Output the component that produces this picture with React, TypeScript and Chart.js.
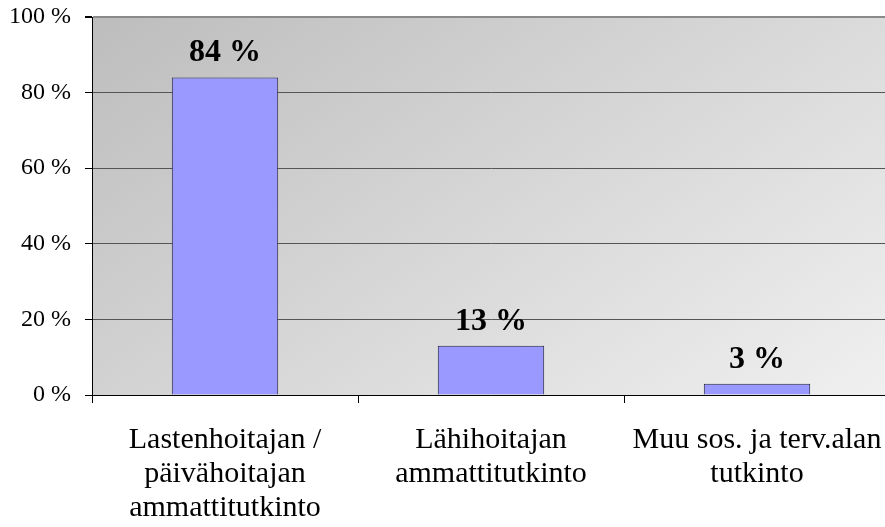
import React, { useEffect, useRef } from 'react';
import { Chart, registerables } from 'chart.js';
Chart.register(...registerables);

const categories: string[][] = [
  ['Lastenhoitajan /', 'päivähoitajan', 'ammattitutkinto'],
  ['Lähihoitajan', 'ammattitutkinto'],
  ['Muu sos. ja terv.alan', 'tutkinto'],
];
const values: number[] = [84, 13, 3];
const valueLabels: string[] = ['84 %', '13 %', '3 %'];
const yTicks: number[] = [0, 20, 40, 60, 80, 100];

const FONT = "'Liberation Serif', 'Times New Roman', serif";

const bgPlugin = {
  id: 'bgGradient',
  beforeDraw(chart: any) {
    const { ctx, chartArea: a } = chart;
    const w = a.right - a.left;
    const h = a.bottom - a.top;
    const g = ctx.createLinearGradient(a.left, a.top, a.left + 0.541 * w, a.top + 1.664 * h);
    g.addColorStop(0, '#bdbdbd');
    g.addColorStop(1, '#f0f0f0');
    ctx.save();
    ctx.fillStyle = g;
    ctx.fillRect(a.left, a.top, w, h);
    ctx.restore();
  },
};

const valueLabelPlugin = {
  id: 'valueLabels',
  afterDatasetsDraw(chart: any) {
    const { ctx } = chart;
    const meta = chart.getDatasetMeta(0);
    ctx.save();
    ctx.font = `bold 32px ${FONT}`;
    ctx.fillStyle = '#000';
    ctx.textAlign = 'center';
    ctx.textBaseline = 'alphabetic';
    meta.data.forEach((el: any, i: number) => {
      ctx.fillText(valueLabels[i], el.x, el.y - 16);
    });
    ctx.restore();
  },
};

export default function App() {
  const ref = useRef<HTMLCanvasElement>(null);
  useEffect(() => {
    if (!ref.current) return;
    const chart = new Chart(ref.current, {
      type: 'bar',
      data: {
        labels: categories,
        datasets: [
          {
            data: values,
            backgroundColor: '#9999ff',
            borderColor: '#222244',
            borderWidth: 1,
            categoryPercentage: 1,
            barPercentage: 0.4,
          },
        ],
      },
      options: {
        animation: false,
        responsive: false,
        devicePixelRatio: 1,
        layout: { padding: { top: 17, left: 0, right: 2, bottom: 0 } },
        plugins: { legend: { display: false }, tooltip: { enabled: false } },
        scales: {
          x: {
            grid: {
              offset: true,
              drawOnChartArea: false,
              drawTicks: true,
              tickLength: 8,
              color: '#000',
            },
            border: { color: '#000', width: 1 },
            ticks: {
              font: { family: FONT, size: 30, lineHeight: 1.14 },
              color: '#000',
              padding: 20,
              maxRotation: 0,
              autoSkip: false,
            },
            afterFit(s: any) {
              s.height = 132;
              s.paddingLeft = 0;
              s.paddingRight = 0;
            },
          },
          y: {
            min: 0,
            max: 100,
            afterBuildTicks(s: any) {
              s.ticks = yTicks.map((v) => ({ value: v }));
            },
            ticks: {
              callback: (v: any) => `${v} %`,
              font: { family: FONT, size: 24 },
              color: '#000',
              padding: 14,
            },
            grid: {
              color: (c: any) => (c.tick && c.tick.value === 100 ? '#8a8a8a' : '#555'),
              lineWidth: (c: any) => (c.tick && c.tick.value === 100 ? 2 : 1),
              tickColor: '#000',
              tickLength: 7,
            },
            border: { color: '#000', width: 1 },
            afterFit(s: any) {
              s.width = 92;
              s.paddingTop = 0;
              s.paddingBottom = 0;
            },
          },
        },
      },
      plugins: [bgPlugin, valueLabelPlugin],
    });
    return () => chart.destroy();
  }, []);
  return (
    <div style={{ position: 'fixed', left: 0, top: 0, width: 885, height: 527, overflow: 'hidden', background: '#fff' }}>
      <canvas ref={ref} width={892} height={527} style={{ display: 'block' }} />
    </div>
  );
}
